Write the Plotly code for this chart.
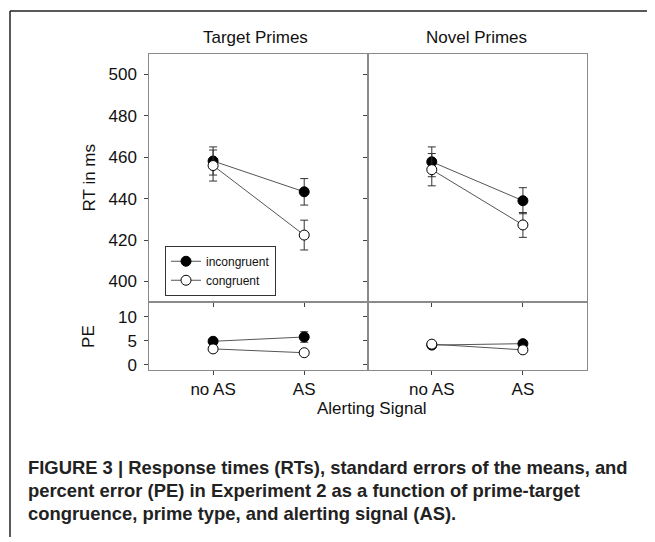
import plotly.graph_objects as go

# ---------------- data ----------------
conditions = ["no AS", "AS"]
cond_x = [1, 2]

rt_target_incong = [458.2, 443.3]
rt_target_incong_err = [6.8, 6.4]
rt_target_cong = [456.0, 422.4]
rt_target_cong_err = [7.5, 7.2]

rt_novel_incong = [457.8, 439.0]
rt_novel_incong_err = [7.2, 6.3]
rt_novel_cong = [454.0, 427.3]
rt_novel_cong_err = [7.8, 6.0]

pe_target_incong = [4.9, 5.8]
pe_target_incong_err = [0.5, 1.1]
pe_target_cong = [3.3, 2.5]
pe_target_cong_err = [0.4, 0.4]

pe_novel_incong = [4.1, 4.4]
pe_novel_incong_err = [0.5, 0.6]
pe_novel_cong = [4.3, 3.1]
pe_novel_cong_err = [0.5, 0.4]

rt_ticks = [400, 420, 440, 460, 480, 500]
pe_ticks = [0, 5, 10]

# page body has an 8px margin, so the figure is sized to fit the window
OFF = 8
W, H = 655 - OFF, 542 - OFF


def px(x):
    return (x - OFF) / W


def py(y):
    return 1 - (y - OFF) / H


FONT = "Liberation Sans, Arial, sans-serif"
LINE_COL = "#555555"
AX_COL = "#8a8a8a"

fig = go.Figure()


def add_pair(xa, ya, inc, inc_err, con, con_err, show):
    fig.add_trace(go.Scatter(
        x=cond_x, y=inc, xaxis=xa, yaxis=ya, mode="lines+markers",
        name="incongruent", showlegend=show, legendrank=1,
        line=dict(color=LINE_COL, width=1),
        marker=dict(symbol="circle", size=10, color="black",
                    line=dict(color="black", width=1)),
        error_y=dict(type="data", array=inc_err, visible=True,
                     color="#333333", thickness=1, width=4)))
    fig.add_trace(go.Scatter(
        x=cond_x, y=con, xaxis=xa, yaxis=ya, mode="lines+markers",
        name="congruent", showlegend=show, legendrank=2,
        line=dict(color=LINE_COL, width=1),
        marker=dict(symbol="circle", size=10, color="white",
                    line=dict(color="black", width=1)),
        error_y=dict(type="data", array=con_err, visible=True,
                     color="#333333", thickness=1, width=4)))


add_pair("x", "y", rt_target_incong, rt_target_incong_err,
         rt_target_cong, rt_target_cong_err, True)
add_pair("x2", "y2", rt_novel_incong, rt_novel_incong_err,
         rt_novel_cong, rt_novel_cong_err, False)
add_pair("x3", "y3", pe_target_incong, pe_target_incong_err,
         pe_target_cong, pe_target_cong_err, False)
add_pair("x4", "y4", pe_novel_incong, pe_novel_incong_err,
         pe_novel_cong, pe_novel_cong_err, False)

left_dom = [px(149.3), px(368.0)]
right_dom = [px(368.0), px(586.7)]
rt_dom = [py(304.5), py(54.0)]
pe_dom = [py(373.3), py(304.5)]
xr = [0.3, 2.7]
rt_range = [390.2, 510.1]
pe_range = [-1.1, 13.2]

base_ax = dict(showline=True, linecolor=AX_COL, linewidth=1, mirror=True,
               showgrid=False, zeroline=False, ticks="outside", ticklen=4,
               tickcolor="#444444", tickwidth=1,
               tickfont=dict(family=FONT, size=17, color="#111111"))

fig.update_layout(
    width=W, height=H, margin=dict(l=0, r=0, t=0, b=0),
    paper_bgcolor="white", plot_bgcolor="white",
    font=dict(family=FONT, color="#111111"),
    xaxis=dict(base_ax, domain=left_dom, range=xr, anchor="y",
               tickvals=cond_x, showticklabels=False),
    yaxis=dict(base_ax, domain=rt_dom, range=rt_range, anchor="x",
               tickvals=rt_ticks, ticklabelstandoff=4),
    xaxis2=dict(base_ax, domain=right_dom, range=xr, anchor="y2",
                tickvals=cond_x, showticklabels=False),
    yaxis2=dict(base_ax, domain=rt_dom, range=rt_range, anchor="x2",
                tickvals=rt_ticks, showticklabels=False),
    xaxis3=dict(base_ax, domain=left_dom, range=xr, anchor="y3",
                tickvals=cond_x, ticktext=conditions),
    yaxis3=dict(base_ax, domain=pe_dom, range=pe_range, anchor="x3",
                tickvals=pe_ticks, ticklabelstandoff=4),
    xaxis4=dict(base_ax, domain=right_dom, range=xr, anchor="y4",
                tickvals=cond_x, ticktext=conditions),
    yaxis4=dict(base_ax, domain=pe_dom, range=pe_range, anchor="x4",
                tickvals=pe_ticks, showticklabels=False),
    showlegend=True,
    legend=dict(x=px(165), y=py(248), xanchor="left", yanchor="top",
                bordercolor="#333333", borderwidth=1, bgcolor="white",
                font=dict(family=FONT, size=12, color="#111111"),
                tracegroupgap=0, itemwidth=30),
)

ann = [
    dict(text="Target Primes", x=px(256), y=py(38)),
    dict(text="Novel Primes", x=px(477), y=py(38)),
    dict(text="Alerting Signal", x=px(371.5), y=py(412)),
    dict(text="RT in ms", x=px(89), y=py(180), textangle=-90),
    dict(text="PE", x=px(89), y=py(340), textangle=-90),
]
for a in ann:
    fig.add_annotation(xref="paper", yref="paper", showarrow=False,
                       xanchor="center", yanchor="middle",
                       font=dict(family=FONT, size=17, color="#111111"), **a)

caption_lines = [
    "FIGURE 3 | Response times (RTs), standard errors of the means, and",
    "percent error (PE) in Experiment 2 as a function of prime-target",
    "congruence, prime type, and alerting signal (AS).",
]
cap_y = [472, 495, 518]
for line, yy in zip(caption_lines, cap_y):
    fig.add_annotation(xref="paper", yref="paper", showarrow=False,
                       x=px(25.5), y=py(yy), xanchor="left", yanchor="middle",
                       text="<b>" + line + "</b>",
                       font=dict(family=FONT, size=18.4, color="#222222"))

# outer frame (figure border)
fig.add_shape(type="line", xref="paper", yref="paper",
              x0=px(10), x1=1, y0=py(11), y1=py(11),
              line=dict(color="#222222", width=1.5))
fig.add_shape(type="line", xref="paper", yref="paper",
              x0=px(10), x1=px(10), y0=0, y1=py(11),
              line=dict(color="#222222", width=1.5))

fig.write_html("out.html")
